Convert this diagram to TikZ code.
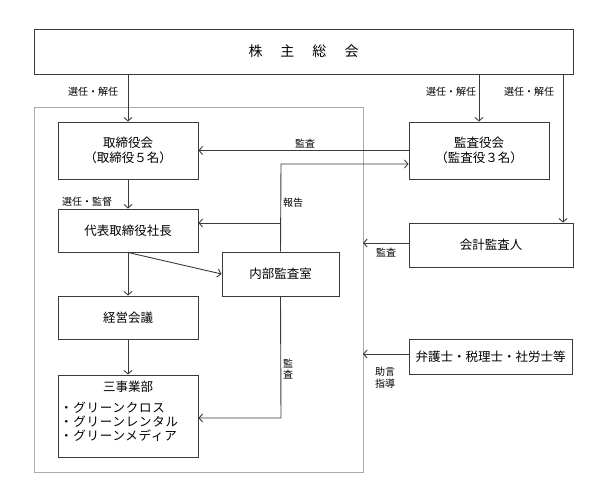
\documentclass[tikz,border=0pt]{standalone}
\usepackage{fontspec}
\setmainfont{Noto Sans CJK JP}
\newfontfamily\jpwide[LetterSpace=6]{Noto Sans CJK JP}
\usetikzlibrary{arrows.meta}
\definecolor{ln}{HTML}{3A3A3A}
\definecolor{frm}{HTML}{AAAAAA}
\tikzset{
  box/.style={draw=ln, line width=0.9pt, fill=white, inner sep=0pt, align=center,
    font=\fontsize{12.5}{15.5}\selectfont},
  lbl/.style={inner sep=0pt, font=\fontsize{10}{11.5}\selectfont, text=black},
  arr/.style={draw=ln, line width=0.9pt, -{Straight Barb[length=3.5pt,width=8pt]}},
  ln/.style={draw=ln, line width=0.9pt},
}
\begin{document}
\begin{tikzpicture}[x=1pt,y=-1pt]
\useasboundingbox (0,0) rectangle (607,501);
% outer frame
\draw[frm, line width=0.9pt] (34,107) rectangle (363,472);
% boxes
\node[box, minimum width=539pt, minimum height=45pt, font=\fontsize{14}{16}\selectfont] (kabu) at (303.5,51.5) {株\hspace{18pt}主\hspace{18pt}総\hspace{18pt}会};
\node[box, minimum width=140pt, minimum height=57pt] (tori) at (128,150.5) {取締役会\\（取締役５名）};
\node[box, minimum width=140pt, minimum height=43pt] (daihyo) at (128,230.5) {代表取締役社長};
\node[box, minimum width=117pt, minimum height=44pt] (naibu) at (280.5,274) {内部監査室};
\node[box, minimum width=140pt, minimum height=43pt] (keiei) at (128,317.5) {経営会議};
\node[box, minimum width=140pt, minimum height=82pt] (sanji) at (128,416) {};
\node[inner sep=0pt, font=\fontsize{12.5}{15}\selectfont] (sanjit) at (128,387) {三事業部};
\node[inner sep=0pt, anchor=west, font=\fontsize{12.5}{15}\selectfont\jpwide] (it1) at (60,408) {・グリーンクロス};
\node[inner sep=0pt, anchor=west, font=\fontsize{12.5}{15}\selectfont\jpwide] (it2) at (60,422) {・グリーンレンタル};
\node[inner sep=0pt, anchor=west, font=\fontsize{12.5}{15}\selectfont\jpwide] (it3) at (60,436) {・グリーンメディア};
\node[box, minimum width=140pt, minimum height=57pt] (kansa) at (479,150.5) {監査役会\\（監査役３名）};
\node[box, minimum width=164pt, minimum height=44pt] (kaikei) at (491,245) {会計監査人};
\node[box, minimum width=163pt, minimum height=35pt] (bengo) at (490.5,356.5) {弁護士・税理士・社労士等};
% coordinates
\coordinate (kk) at (563,74);
\coordinate (r1) at (281,164);
\coordinate (r2) at (281,223);
\coordinate (r3) at (281,418);
\coordinate (f1) at (363,243);
\coordinate (f2) at (363,354);
% connectors
\draw[arr] (kabu.south -| tori.north) -- (tori.north);
\draw[arr] (kabu.south -| kansa.north) -- (kansa.north);
\draw[arr] (kk) -- (kk |- kaikei.north);
\draw[arr] (kansa.west) -- (tori.east);
\draw[arr] (naibu.north) -- (r1) -- (kansa.west |- r1);
\draw[arr] (r2) -- (daihyo.east |- r2);
\draw[arr] (tori.south) -- (daihyo.north);
\draw[arr] (daihyo.south) -- (keiei.north);
\draw[arr] (daihyo.south) -- (naibu.west);
\draw[arr] (keiei.south) -- (sanji.north);
\draw[arr] (naibu.south) -- (r3) -- (sanji.east |- r3);
\draw[arr] (kaikei.west |- f1) -- (f1);
\draw[arr] (bengo.west |- f2) -- (f2);
% labels
\node[lbl] (l1) at (93,92) {選任・解任};
\node[lbl] (l2) at (451,92) {選任・解任};
\node[lbl] (l3) at (529,92) {選任・解任};
\node[lbl] (l4) at (87,202) {選任・監督};
\node[lbl] (l5) at (305,144) {監査};
\node[lbl] (l6) at (293,203) {報告};
\node[lbl, align=center] (l7) at (288,369) {監\\査};
\node[lbl] (l8) at (386,253) {監査};
\node[lbl, align=center] (l9) at (385,377.5) {助言\\指導};
\end{tikzpicture}
\end{document}
